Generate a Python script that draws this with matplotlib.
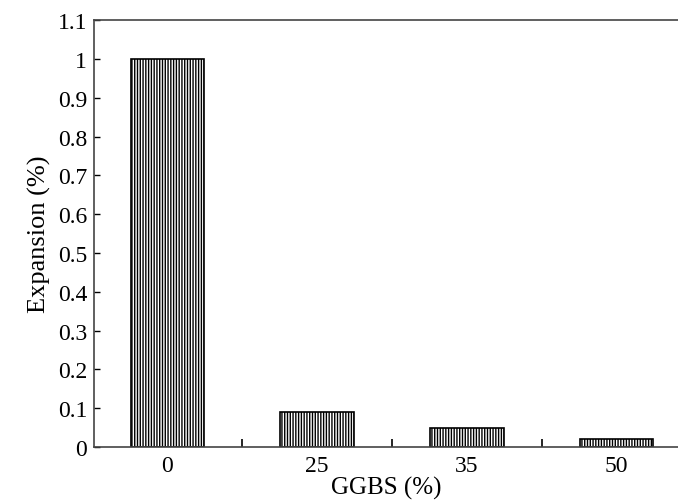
import matplotlib
matplotlib.use("Agg")
import matplotlib.pyplot as plt
import numpy as np

# GGBS replacement level vs expansion
ggbs = ["0", "25", "35", "50"]
expansion = [1.0, 0.09, 0.05, 0.02]

plt.rcParams['font.family'] = ['Liberation Serif', 'DejaVu Serif']
plt.rcParams['hatch.linewidth'] = 1.0
plt.rcParams['hatch.color'] = 'black'

fig = plt.figure(figsize=(6.78, 5.02), dpi=100)
ax = fig.add_axes([0.1387, 0.1076, 0.8613, 0.8504])

x = np.arange(len(ggbs))
ax.bar(x, expansion, width=0.49, color='white', edgecolor='black',
       hatch='||||||', linewidth=1.2)

ax.set_xlim(-0.49, 3.41)
ax.set_ylim(0, 1.1)
ax.set_xticks(x)
ax.set_xticklabels(ggbs)
ax.set_xticks(x[:-1] + 0.5, minor=True)
ax.set_yticks(np.arange(0, 1.11, 0.1))
ax.set_yticklabels(["0", "0.1", "0.2", "0.3", "0.4", "0.5", "0.6",
                    "0.7", "0.8", "0.9", "1", "1.1"])

ax.tick_params(axis='both', direction='in', labelsize=17, length=4, width=1)
ax.tick_params(axis='x', which='major', length=0, pad=6)
ax.tick_params(axis='x', which='minor', direction='in', length=6, width=1.2)
ax.tick_params(axis='y', pad=5)

ax.spines['right'].set_visible(False)
for s in ['left', 'top', 'bottom']:
    ax.spines[s].set_linewidth(1.2)
    ax.spines[s].set_color('#444444')

ax.set_xlabel("GGBS (%)", fontsize=18, labelpad=0)
ax.set_ylabel("Expansion (%)", fontsize=19, labelpad=5)

fig.savefig("out.png", dpi=100)
